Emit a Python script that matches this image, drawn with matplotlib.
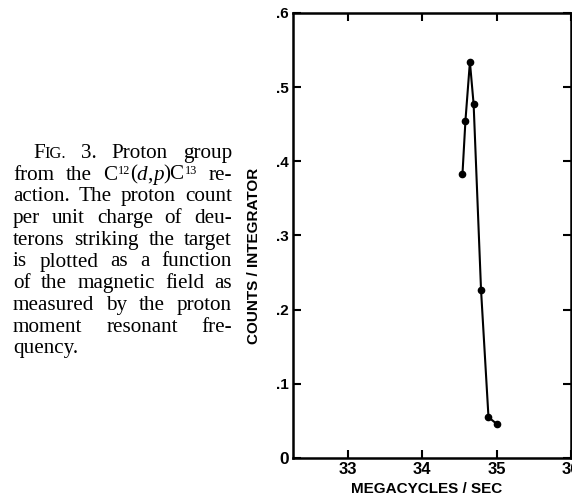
import matplotlib
matplotlib.use("Agg")
import matplotlib.pyplot as plt

# data
freq = [34.54, 34.58, 34.64, 34.69, 34.79, 34.89, 35.00]
counts = [0.383, 0.455, 0.534, 0.477, 0.226, 0.055, 0.046]
xticks = [33, 34, 35, 36]
xtick_labels = ["33", "34", "35", "36"]
yticks = [0, 0.1, 0.2, 0.3, 0.4, 0.5, 0.6]
ytick_labels = ["0", ".1", ".2", ".3", ".4", ".5", ".6"]
caption = [
    "FIG. 3. Proton group",
    "from the C^12(_d_,_p_)C^13 re-",
    "action. The proton count",
    "per unit charge of deu-",
    "terons striking the target",
    "is plotted as a function",
    "of the magnetic field as",
    "measured by the proton",
    "moment resonant fre-",
    "quency.",
]

W, H = 572, 498
fig = plt.figure(figsize=(W / 100, H / 100), dpi=100)
ax = fig.add_axes([293 / W, 1 - 458 / H, 278 / W, 445 / H])

ax.plot(freq, counts, color="black", lw=1.5, marker="o", ms=4.5)
ax.set_xlim(32.26, 36.0)
ax.set_ylim(0, 0.6)
ax.set_xticks(xticks)
ax.set_xticklabels(xtick_labels)
ax.set_yticks(yticks)
ax.set_yticklabels(ytick_labels)
for lab in ax.get_xticklabels() + ax.get_yticklabels():
    lab.set_fontfamily("Liberation Sans")
    lab.set_fontweight("bold")
    lab.set_fontsize(11)
for lab in ax.get_xticklabels():
    lab.set_fontsize(12)
ax.get_yticklabels()[0].set_fontsize(12.5)
ax.tick_params(direction="in", length=5.5, width=1.5, top=True, right=True, pad=3)
for s in ax.spines.values():
    s.set_linewidth(1.8)

ax.set_xlabel("MEGACYCLES / SEC", fontfamily="Liberation Sans", fontweight="bold", fontsize=11)
ax.xaxis.set_label_coords(0.482, -0.055)
ax.set_ylabel("COUNTS / INTEGRATOR", fontfamily="Liberation Sans", fontweight="bold", fontsize=11)
ax.yaxis.set_label_coords(-0.115, 0.454)

# caption, justified line by line
fig.canvas.draw()
r = fig.canvas.get_renderer()
fs = 15.2
tkw = dict(fontfamily="Liberation Serif", color="black", va="baseline")


def pieces_of(word):
    # (text, size, raise in px, style)
    if word == "FIG.":
        return [("F", fs, 0, "normal"), ("IG.", fs * 0.78, 0, "normal")]
    out = []
    mode = "normal"
    buf = ""
    i = 0
    while i < len(word):
        c = word[i]
        if c == "^":
            if buf:
                out.append((buf, fs, 0, "normal"))
                buf = ""
            out.append((word[i + 1:i + 3], fs * 0.58, 6, "normal"))
            i += 3
            continue
        if c == "_":
            if buf:
                out.append((buf, fs, 0, mode))
                buf = ""
            mode = "italic" if mode == "normal" else "normal"
        else:
            buf += c
        i += 1
    if buf:
        out.append((buf, fs, 0, mode))
    return out


for i, line in enumerate(caption):
    yb = 158 + i * 21.7
    x0 = 33 if i == 0 else 13
    x1 = 232
    words = [pieces_of(w) for w in line.split(" ")]
    arts = []
    widths = []
    for w in words:
        pieces = []
        wd = 0
        for txt, sz, dy, st in w:
            t = fig.text(0, 1 - (yb - dy) / H, txt, fontsize=sz, style=st, **tkw)
            pw = t.get_window_extent(r).width
            pieces.append((t, wd))
            wd += pw
        arts.append(pieces)
        widths.append(wd)
    if i == len(caption) - 1 or len(words) == 1:
        gap = 4
    else:
        gap = max(2.5, (x1 - x0 - sum(widths)) / (len(words) - 1))
    x = x0
    for pieces, wd in zip(arts, widths):
        for t, off in pieces:
            t.set_x((x + off) / W)
        x += wd + gap

fig.savefig("out.png", dpi=100)
